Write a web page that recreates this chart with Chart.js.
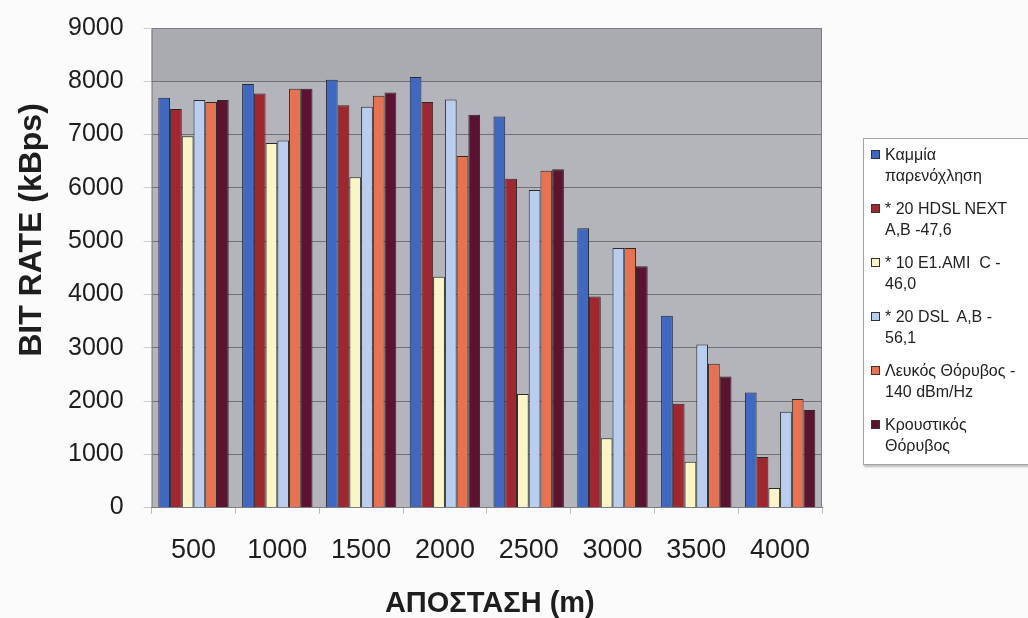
<!DOCTYPE html>
<html>
<head>
<meta charset="utf-8">
<script src="https://cdn.jsdelivr.net/npm/chart.js@4.4.1/dist/chart.umd.min.js"></script>
<style>
  html, body { margin: 0; padding: 0; background: #fbfbfc; overflow: hidden; }
  #wrap { position: relative; width: 1028px; height: 618px; }
  #legend {
    position: absolute; left: 863px; top: 138px; width: 172px; height: 327px;
    box-sizing: border-box; background: #fff; border: 1px solid #a4a4a4;
    box-shadow: 1px 2px 2px rgba(0,0,0,0.25);
    padding: 5px 0 0 0; font-family: 'Liberation Sans', Arial, sans-serif;
    font-size: 16px; line-height: 21px; color: #222;
  }
  .item { position: relative; padding-left: 21px; margin-bottom: 12px; white-space: pre; }
  .mark { position: absolute; left: 7px; top: 6px; width: 7px; height: 7px; border: 1px solid #333; }
</style>
</head>
<body>
<div id="wrap">
  <canvas id="bitChart"></canvas>
  <div id="legend"></div>
</div>
<script>
const distances = ['500', '1000', '1500', '2000', '2500', '3000', '3500', '4000'];

const seriesNames = [
  'Καμμία\nπαρενόχληση',
  '* 20 HDSL NEXT\nA,B -47,6',
  '* 10 E1.AMI  C -\n46,0',
  '* 20 DSL  A,B -\n56,1',
  'Λευκός Θόρυβος -\n140 dBm/Hz',
  'Κρουστικός\nΘόρυβος'
];

const noDisturb = [7690, 7950, 8030, 8080, 7340, 5240, 3600, 2160];
const hdslNext  = [7480, 7770, 7550, 7610, 6170, 3960, 1950, 950];
const e1Ami     = [6970, 6840, 6200, 4330, 2130, 1300, 860, 370];
const dsl       = [7650, 6890, 7520, 7660, 5960, 4870, 3060, 1800];
const whiteNoise = [7610, 7860, 7730, 6600, 6320, 4870, 2700, 2040];
const impulseNoise = [7650, 7860, 7790, 7370, 6350, 4530, 2460, 1830];

const yTicks = [0, 1000, 2000, 3000, 4000, 5000, 6000, 7000, 8000, 9000];

const colors = ['#3e68c4', '#a2262e', '#faf5c6', '#b9cdee', '#e8724f', '#5c1330'];
const allSeries = [noDisturb, hdslNext, e1Ami, dsl, whiteNoise, impulseNoise];

const datasets = allSeries.map((vals, i) => ({
  label: seriesNames[i],
  data: vals,
  backgroundColor: colors[i],
  borderColor: '#2a2a2a',
  borderWidth: 1,
  categoryPercentage: 0.84,
  barPercentage: 1.0
}));

// gray plot background, darker band on top
const plotBack = {
  id: 'plotBack',
  beforeDraw(chart) {
    const {ctx, chartArea: {left, top, right, bottom}, scales: {y}} = chart;
    ctx.save();
    ctx.fillStyle = '#b4b5ba';
    ctx.fillRect(left, top, right - left, bottom - top);
    const yb = y.getPixelForValue(8000);
    ctx.fillStyle = '#a9abb1';
    ctx.fillRect(left, top, right - left, yb - top);
    ctx.restore();
  },
  afterDraw(chart) {
    const {ctx, chartArea: {left, top, right, bottom}} = chart;
    ctx.save();
    ctx.strokeStyle = '#7c7d82';
    ctx.lineWidth = 1;
    ctx.beginPath();
    ctx.moveTo(left + 0.5, bottom);
    ctx.lineTo(left + 0.5, top + 0.5);
    ctx.lineTo(right - 0.5, top + 0.5);
    ctx.lineTo(right - 0.5, bottom);
    ctx.stroke();
    // axis titles
    ctx.fillStyle = '#1e1e1e';
    ctx.font = 'bold 32px "Liberation Sans", Arial, sans-serif';
    ctx.textAlign = 'center';
    ctx.textBaseline = 'alphabetic';
    ctx.translate(41, 230);
    ctx.rotate(-Math.PI / 2);
    ctx.fillText('BIT RATE (kBps)', 0, 0);
    ctx.restore();
    ctx.save();
    ctx.fillStyle = '#1e1e1e';
    ctx.font = 'bold 29px "Liberation Sans", Arial, sans-serif';
    ctx.textAlign = 'center';
    ctx.textBaseline = 'middle';
    ctx.fillText('ΑΠΟΣΤΑΣΗ (m)', (left + right) / 2 + 3, 604);
    ctx.restore();
  }
};

const chart = new Chart(document.getElementById('bitChart'), {
  type: 'bar',
  data: { labels: distances, datasets: datasets },
  options: {
    responsive: true,
    maintainAspectRatio: false,
    animation: false,
    layout: { padding: { left: 48, right: 206, top: 28, bottom: 30 } },
    plugins: {
      legend: { display: false },
      tooltip: { enabled: false }
    },
    scales: {
      x: {
        grid: { drawOnChartArea: false, color: '#bdbdbd', tickLength: 6 },
        border: { color: '#7c7d82' },
        ticks: {
          color: '#1e1e1e',
          padding: 21,
          maxRotation: 0,
          font: { size: 27, family: '"Liberation Sans", Arial, sans-serif' }
        }
      },
      y: {
        min: 0,
        max: 9000,
        afterBuildTicks(axis) { axis.ticks = yTicks.map(v => ({ value: v })); },
        grid: { color: '#707176', tickColor: '#cfcfcf', tickLength: 8 },
        border: { display: false },
        ticks: {
          color: '#1e1e1e',
          padding: 20,
          callback: v => String(v),
          font: { size: 25, lineHeight: 0.5, family: '"Liberation Sans", Arial, sans-serif' }
        }
      }
    }
  },
  plugins: [plotBack]
});

// html legend built from the datasets
const legendBox = document.getElementById('legend');
chart.data.datasets.forEach(ds => {
  const item = document.createElement('div');
  item.className = 'item';
  const mark = document.createElement('span');
  mark.className = 'mark';
  mark.style.background = ds.backgroundColor;
  item.appendChild(mark);
  item.appendChild(document.createTextNode(ds.label));
  legendBox.appendChild(item);
});
</script>
</body>
</html>
